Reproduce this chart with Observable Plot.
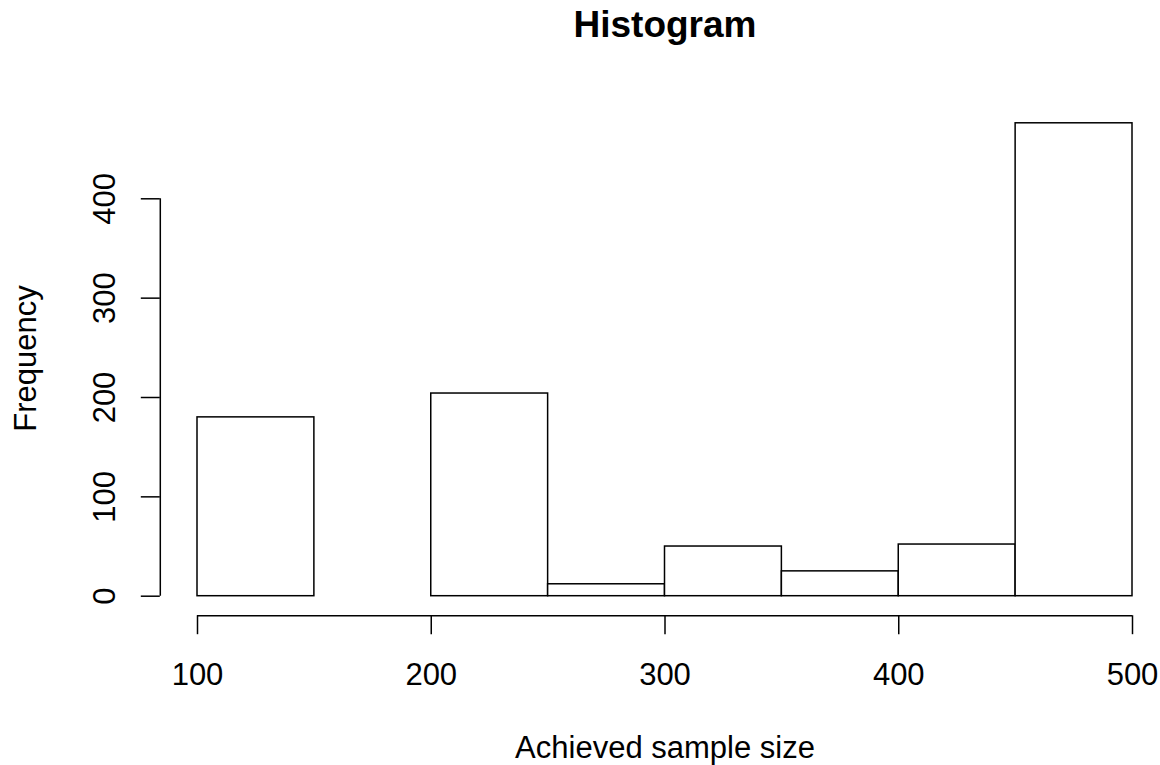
<!DOCTYPE html>
<html>
<head>
<meta charset="utf-8">
<script src="https://cdn.jsdelivr.net/npm/d3@7"></script>
<script src="https://cdn.jsdelivr.net/npm/@observablehq/plot@0.6"></script>
<style>
  html, body { margin: 0; padding: 0; background: #fff; }
</style>
</head>
<body>
<div id="chart"></div>
<script>
// Histogram bins (Achieved sample size) and their frequencies
const binStarts = [100, 150, 200, 250, 300, 350, 400, 450];
const binEnds   = [150, 200, 250, 300, 350, 400, 450, 500];
const counts    = [180, 0, 204, 12, 50, 25, 52, 476];
const xTicks = [100, 200, 300, 400, 500];
const yTicks = [0, 100, 200, 300, 400];
const titleText = "Histogram";
const xLabel = "Achieved sample size";
const yLabel = "Frequency";

const bins = binStarts.map((x0, i) => ({x0, x1: binEnds[i], count: counts[i]}));

const font = "'Liberation Sans', Arial, Helvetica, sans-serif";

const chart = Plot.plot({
  width: 1160,
  height: 765,
  marginLeft: 197,
  marginRight: 28,
  marginTop: 198.3,
  marginBottom: 169.3,
  x: {domain: [d3.min(xTicks), d3.max(xTicks)]},
  y: {domain: [d3.min(yTicks), d3.max(yTicks)]},
  style: {fontFamily: font, fontSize: "31px", background: "#fff", color: "#000", overflow: "visible"},
  marks: [
    Plot.rect(bins, {x1: "x0", x2: "x1", y1: () => 0, y2: "count", fill: "#fff", stroke: "#000", strokeWidth: 1.5}),
    // x axis
    Plot.ruleY([d3.min(yTicks)], {x1: d3.min(xTicks), x2: d3.max(xTicks), dy: 19.5, stroke: "#000", strokeWidth: 1.5}),
    Plot.axisX(xTicks, {tickSize: 19, dy: 19.5, tickPadding: 28, label: null, fontSize: 31, strokeWidth: 1.5}),
    // y axis
    Plot.ruleX([d3.min(xTicks)], {y1: d3.min(yTicks), y2: d3.max(yTicks), dx: -37.2, stroke: "#000", strokeWidth: 1.5}),
    Plot.axisY(yTicks, {tickSize: 19, dx: -37.2, tickRotate: -90, tickPadding: 26, label: null, fontSize: 31, strokeWidth: 1.5}),
    // title and axis labels
    Plot.text([titleText], {frameAnchor: "top", dy: -173.3, lineAnchor: "middle", textAnchor: "middle", fontSize: 37, fontWeight: "bold"}),
    Plot.text([xLabel], {frameAnchor: "bottom", dy: 151.5, lineAnchor: "middle", textAnchor: "middle", fontSize: 31}),
    Plot.text([yLabel], {frameAnchor: "left", dx: -171, dy: -39, lineAnchor: "middle", textAnchor: "middle", rotate: -90, fontSize: 31})
  ]
});

document.getElementById("chart").appendChild(chart);
</script>
</body>
</html>
